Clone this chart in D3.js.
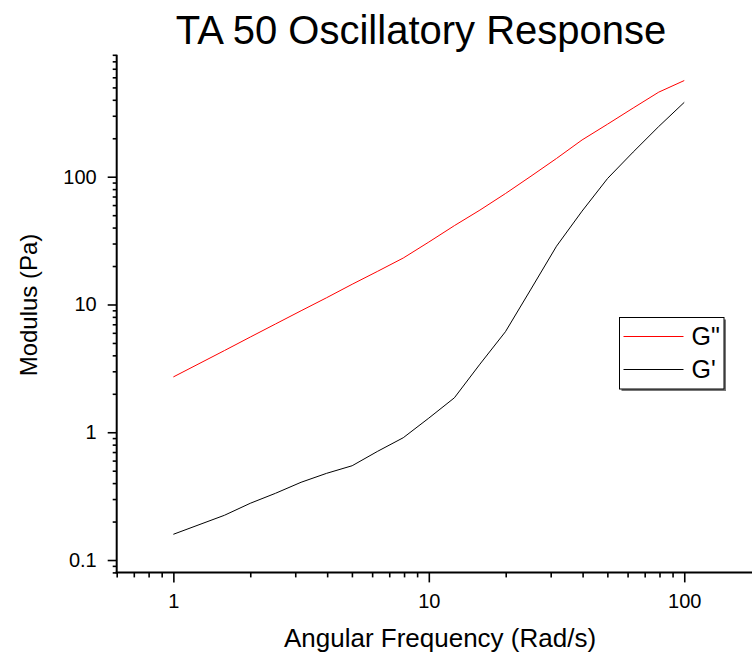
<!DOCTYPE html>
<html>
<head>
<meta charset="utf-8">
<script src="https://cdn.jsdelivr.net/npm/d3@7"></script>
<style>
  html, body { margin: 0; padding: 0; background: #fff; }
  svg { display: block; font-family: "Liberation Sans", Arial, sans-serif; }
</style>
</head>
<body>
<svg id="chart" width="752" height="653"></svg>
<script>
// ---- data ----
const frequency = [1, 1.585, 2, 2.512, 3.162, 3.981, 5.012, 6.31, 7.943, 10, 12.59, 15.85, 19.95, 25.12, 31.62, 39.81, 50.12, 63.1, 79.43, 100];
const gDoublePrime = [2.71, 4.36, 5.56, 7.04, 8.93, 11.3, 14.4, 18.2, 23.1, 30.8, 41.4, 54.8, 73.8, 101, 139, 194, 258, 345, 459, 566];
const gPrime = [0.159, 0.224, 0.278, 0.333, 0.406, 0.477, 0.547, 0.71, 0.906, 1.29, 1.86, 3.41, 6.12, 13.2, 28.6, 53.8, 97, 156, 247, 382];
const seriesNames = ['G"', "G'"];
const seriesColors = ["#ff0000", "#000000"];
const xMajorTicks = [1, 10, 100];
const xMinorTicks = [0.6, 0.7, 0.8, 0.9, 2, 3, 4, 5, 6, 7, 8, 9, 20, 30, 40, 50, 60, 70, 80, 90];
const yMajorTicks = [0.1, 1, 10, 100];
const yTickLabels = ["0.1", "1", "10", "100"];
const yMinorTicks = [0.08, 0.09, 0.2, 0.3, 0.4, 0.5, 0.6, 0.7, 0.8, 0.9, 2, 3, 4, 5, 6, 7, 8, 9, 20, 30, 40, 50, 60, 70, 80, 90, 200, 300, 400, 500, 600, 700, 800, 900];

(function () {
const svg = d3.select("#chart");
const pLeft = 116.7, pTop = 54.8, pRight = 752.5, pBottom = 572.4;

const x = d3.scaleLog().domain([0.6, 185]).range([pLeft, pRight]);
const y = d3.scaleLog().domain([0.08, 900]).range([pBottom, pTop]);

// title
svg.append("text").attr("x", 421).attr("y", 44).attr("text-anchor", "middle")
  .attr("font-size", 40).attr("fill", "#000").text("TA 50 Oscillatory Response");

// axes
svg.append("g").attr("transform", `translate(0,${pBottom})`)
  .call(d3.axisBottom(x).tickValues(xMinorTicks).tickSize(5).tickFormat(""));
svg.append("g").attr("transform", `translate(0,${pBottom})`)
  .call(d3.axisBottom(x).tickValues(xMajorTicks).tickSize(10).tickPadding(11).tickFormat(d3.format("d")));
svg.append("g").attr("transform", `translate(${pLeft},0)`)
  .call(d3.axisLeft(y).tickValues(yMinorTicks).tickSize(4).tickFormat(""));
svg.append("g").attr("transform", `translate(${pLeft},0)`)
  .call(d3.axisLeft(y).tickValues(yMajorTicks).tickSize(9).tickPadding(11).tickFormat((d, i) => yTickLabels[i]));

svg.selectAll(".domain").remove();
svg.selectAll(".tick line").attr("stroke", "#000").attr("stroke-width", 1.6);
svg.selectAll(".tick text").attr("font-size", 20).attr("fill", "#000")
  .attr("font-family", "Liberation Sans, Arial, sans-serif");
svg.append("line").attr("x1", pLeft).attr("x2", pLeft).attr("y1", pTop).attr("y2", pBottom + 1)
  .attr("stroke", "#000").attr("stroke-width", 2);
svg.append("line").attr("x1", pLeft - 1).attr("x2", 752).attr("y1", pBottom).attr("y2", pBottom)
  .attr("stroke", "#000").attr("stroke-width", 2);

// axis titles
svg.append("text").attr("x", 440).attr("y", 647).attr("text-anchor", "middle")
  .attr("font-size", 26).attr("fill", "#000").text("Angular Frequency (Rad/s)");
svg.append("text").attr("transform", "translate(37,305) rotate(-90)").attr("text-anchor", "middle")
  .attr("font-size", 24).attr("fill", "#000").text("Modulus (Pa)");

// lines
const line = d3.line().x(d => x(d[0])).y(d => y(d[1]));
const series = [gDoublePrime, gPrime];
series.forEach((vals, i) => {
  svg.append("path").datum(frequency.map((f, j) => [f, vals[j]]))
    .attr("d", line).attr("fill", "none").attr("stroke", seriesColors[i]).attr("stroke-width", 1);
});

// legend
const lg = svg.append("g").attr("transform", "translate(619.5,317.5)");
lg.append("rect").attr("x", 2).attr("y", 2).attr("width", 104.5).attr("height", 71.5).attr("fill", "#777");
lg.append("rect").attr("x", 0).attr("y", 0).attr("width", 104.5).attr("height", 71.5)
  .attr("fill", "#fff").attr("stroke", "#000").attr("stroke-width", 1);
seriesNames.forEach((name, i) => {
  const yy = 19 + i * 33;
  lg.append("line").attr("x1", 4).attr("x2", 64).attr("y1", yy).attr("y2", yy)
    .attr("stroke", seriesColors[i]).attr("stroke-width", 1);
  lg.append("text").attr("x", 72).attr("y", yy + 8).attr("font-size", 25).attr("fill", "#000").text(name);
});
})();
</script>
</body>
</html>
